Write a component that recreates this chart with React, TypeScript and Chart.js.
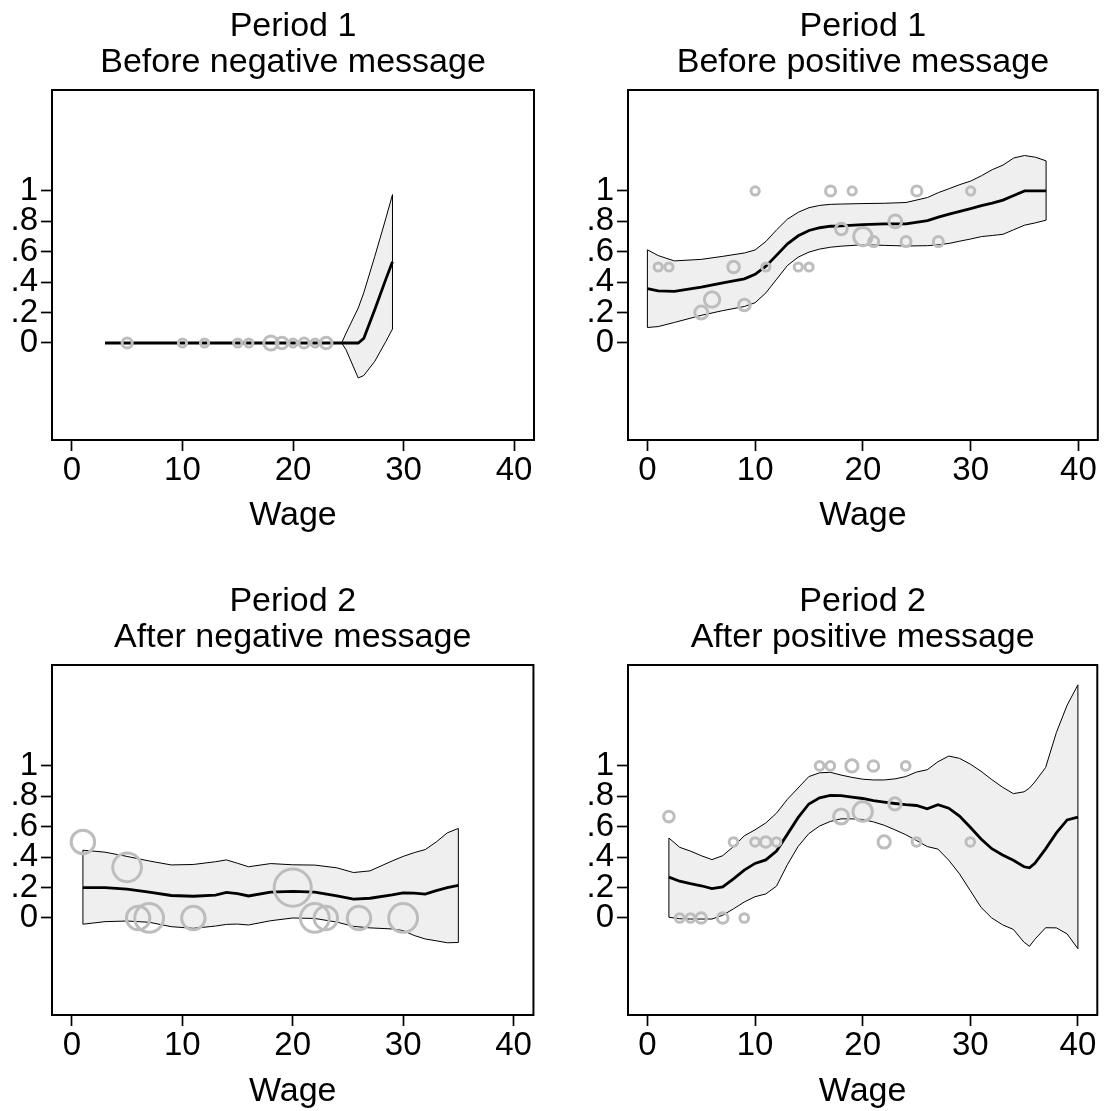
import React, { useEffect, useRef } from 'react';
import { Chart, registerables } from 'chart.js';
Chart.register(...registerables);

const FONT = "'Liberation Sans', Arial, Helvetica, sans-serif";
const MARKER = '#bdbdbd';
const BAND = '#efefef';

const xTicks = [0, 10, 20, 30, 40];
const yTicks = [0, 0.2, 0.4, 0.6, 0.8, 1];
const yTickLabels = ['0', '.2', '.4', '.6', '.8', '1'];
const xTitle = 'Wage';

// ---- Period 1, before negative message ----
const tlTitle = ['Period 1', 'Before negative message'];
const tlX = [3, 5, 10, 15, 20, 24.4, 24.8, 25.9, 26.4, 27.4, 28.4, 29];
const tlFit = [0, 0, 0, 0, 0, 0, 0, 0, 0.03, 0.22, 0.42, 0.535];
const tlLo = [0, 0, 0, 0, 0, 0, -0.045, -0.23, -0.214, -0.12, 0.01, 0.092];
const tlHi = [0, 0, 0, 0, 0, 0, 0.065, 0.23, 0.33, 0.57, 0.82, 0.976];
const tlPtX = [5, 10, 12, 15, 16, 18, 19, 20, 21, 22, 23];
const tlPtY = [0, 0, 0, 0, 0, 0, 0, 0, 0, 0, 0];
const tlPtN = [3, 2, 2, 2, 2, 6, 4, 2, 3, 2, 4];

// ---- Period 1, before positive message ----
const trTitle = ['Period 1', 'Before positive message'];
const trX = [0, 1, 2.5, 5, 7, 9, 10, 11, 12, 13, 14, 15, 16, 17, 18, 20, 22, 24, 26, 27, 28, 29, 30, 31, 32, 33, 34, 35, 36, 37];
const trFit = [0.357, 0.343, 0.34, 0.368, 0.396, 0.422, 0.452, 0.505, 0.578, 0.652, 0.705, 0.74, 0.758, 0.768, 0.77, 0.778, 0.783, 0.783, 0.805, 0.828, 0.848, 0.866, 0.884, 0.903, 0.92, 0.94, 0.97, 1.0, 1.0, 1.0];
const trHi = [0.613, 0.575, 0.54, 0.55, 0.57, 0.592, 0.612, 0.668, 0.745, 0.815, 0.86, 0.89, 0.905, 0.912, 0.914, 0.917, 0.919, 0.924, 0.957, 0.989, 1.015, 1.042, 1.065, 1.1, 1.14, 1.17, 1.217, 1.233, 1.222, 1.198];
const trLo = [0.102, 0.108, 0.135, 0.182, 0.213, 0.24, 0.265, 0.33, 0.42, 0.51, 0.565, 0.598, 0.618, 0.63, 0.637, 0.646, 0.642, 0.638, 0.64, 0.646, 0.655, 0.67, 0.684, 0.7, 0.707, 0.715, 0.745, 0.775, 0.79, 0.808];
const trPtX = [1, 2, 5, 6, 8, 9, 10, 11, 14, 15, 17, 18, 19, 20, 21, 23, 24, 25, 27, 30];
const trPtY = [0.5, 0.5, 0.2, 0.286, 0.5, 0.25, 1, 0.5, 0.5, 0.5, 1, 0.75, 1, 0.7, 0.667, 0.8, 0.667, 1, 0.667, 1];
const trPtN = [2, 2, 5, 7, 4, 4, 2, 2, 2, 2, 3, 4, 2, 10, 3, 5, 3, 3, 3, 2];

// ---- Period 2, after negative message ----
const blTitle = ['Period 2', 'After negative message'];
const blX = [1, 3, 5, 7, 9, 11, 13, 14, 15, 16, 18, 20, 22, 24, 25.5, 27, 29, 30, 31, 32, 33, 34, 35];
const blFit = [0.2, 0.2, 0.19, 0.17, 0.148, 0.143, 0.15, 0.168, 0.16, 0.145, 0.17, 0.175, 0.17, 0.145, 0.124, 0.13, 0.152, 0.165, 0.163, 0.157, 0.18, 0.2, 0.214];
const blHi = [0.446, 0.433, 0.405, 0.375, 0.349, 0.352, 0.37, 0.382, 0.36, 0.337, 0.358, 0.35, 0.348, 0.33, 0.299, 0.31, 0.375, 0.405, 0.43, 0.45, 0.5, 0.56, 0.589];
const blLo = [-0.041, -0.024, -0.02, -0.028, -0.057, -0.068, -0.053, -0.042, -0.04, -0.046, -0.018, 0.0, -0.003, -0.027, -0.055, -0.065, -0.072, -0.083, -0.115, -0.138, -0.15, -0.163, -0.161];
const blPtX = [1, 5, 6, 7, 11, 20, 22, 23, 26, 30];
const blPtY = [0.5, 0.333, 0, 0, 0, 0.2, 0, 0, 0, 0];
const blPtN = [2, 3, 2, 3, 2, 5, 3, 2, 2, 3];

// ---- Period 2, after positive message ----
const brTitle = ['Period 2', 'After positive message'];
const brX = [2, 3, 4, 5, 6, 7, 8, 9, 10, 11, 12, 13, 14, 15, 16, 17, 18, 19, 20, 21, 22, 23, 24, 25, 26, 27, 28, 29, 30, 31, 32, 33, 34, 35, 35.5, 36, 37, 38, 39, 40];
const brFit = [0.269, 0.242, 0.226, 0.212, 0.193, 0.205, 0.258, 0.315, 0.359, 0.382, 0.44, 0.55, 0.66, 0.75, 0.79, 0.806, 0.805, 0.795, 0.786, 0.772, 0.762, 0.753, 0.745, 0.74, 0.718, 0.745, 0.722, 0.67, 0.597, 0.52, 0.456, 0.415, 0.38, 0.337, 0.33, 0.36, 0.455, 0.56, 0.645, 0.664];
const brHi = [0.526, 0.465, 0.44, 0.41, 0.384, 0.41, 0.47, 0.54, 0.58, 0.625, 0.69, 0.78, 0.855, 0.93, 0.955, 0.958, 0.94, 0.925, 0.913, 0.908, 0.908, 0.915, 0.93, 0.96, 0.975, 1.028, 1.065, 1.05, 1.012, 0.965, 0.91, 0.86, 0.818, 0.83, 0.855, 0.895, 0.99, 1.22, 1.4, 1.533];
const brLo = [0.005, -0.005, -0.007, -0.007, -0.007, 0.018, 0.06, 0.105, 0.14, 0.158, 0.21, 0.35, 0.47, 0.555, 0.605, 0.635, 0.652, 0.652, 0.648, 0.632, 0.61, 0.58, 0.548, 0.51, 0.47, 0.453, 0.38, 0.29, 0.18, 0.07, 0.0, -0.045, -0.075, -0.16, -0.186, -0.14, -0.064, -0.065, -0.105, -0.202];
const brPtX = [2, 3, 4, 5, 7, 9, 8, 10, 11, 12, 16, 17, 19, 21, 24, 18, 20, 23, 22, 25, 30];
const brPtY = [0.667, 0, 0, 0, 0, 0, 0.5, 0.5, 0.5, 0.5, 1, 1, 1, 1, 1, 0.667, 0.7, 0.75, 0.5, 0.5, 0.5];
const brPtN = [3, 2, 2, 3, 3, 2, 2, 2, 3, 2, 2, 2, 4, 3, 2, 6, 10, 4, 4, 2, 2];

type PanelCfg = {
  title: string[];
  lx: number[]; fit: number[]; lo: number[]; hi: number[];
  px: number[]; py: number[]; pn: number[];
  left: number; top: number; w: number; h: number;
  areaL: number; areaR: number; areaB: number;
  titlePadTop: number; xTitlePadBottom: number; markerBase: number;
};

const boxPlugin = {
  id: 'plotBox',
  afterDatasetsDraw(chart: any) {
    const { ctx, chartArea: a } = chart;
    ctx.save();
    ctx.strokeStyle = '#000';
    ctx.lineWidth = 2;
    ctx.strokeRect(a.left, a.top, a.right - a.left, a.bottom - a.top);
    ctx.restore();
  },
};

function Panel({ cfg }: { cfg: PanelCfg }) {
  const ref = useRef<HTMLCanvasElement>(null);
  useEffect(() => {
    const canvas = ref.current!;
    const n = cfg.lx.length;
    const line = (ys: number[]) => cfg.lx.map((x, i) => ({ x, y: ys[i] }));
    const pts = cfg.px.map((x, i) => ({ x, y: cfg.py[i] }));
    const thin = { showLine: true, borderColor: '#000', borderWidth: 1, pointRadius: 0, fill: false };
    const gridOpts = {
      display: true, drawOnChartArea: false, drawTicks: true,
      tickLength: 11, tickColor: '#000', tickWidth: 1.7,
    };
    const chart = new Chart(canvas, {
      type: 'scatter',
      data: {
        datasets: [
          {
            data: pts,
            showLine: false,
            pointStyle: 'circle',
            pointRadius: cfg.pn.map((c) => cfg.markerBase * Math.sqrt(c)),
            pointBorderColor: MARKER,
            pointBackgroundColor: 'rgba(0,0,0,0)',
            pointBorderWidth: 3,
          },
          { data: line(cfg.fit), showLine: true, borderColor: '#000', borderWidth: 2.8, pointRadius: 0, fill: false },
          { ...thin, data: line(cfg.hi), fill: '+1', backgroundColor: BAND },
          { ...thin, data: line(cfg.lo) },
          { ...thin, data: [{ x: cfg.lx[0], y: cfg.lo[0] }, { x: cfg.lx[0], y: cfg.hi[0] }] },
          { ...thin, data: [{ x: cfg.lx[n - 1], y: cfg.lo[n - 1] }, { x: cfg.lx[n - 1], y: cfg.hi[n - 1] }] },
        ] as any,
      },
      options: {
        responsive: false,
        animation: false,
        events: [],
        layout: { padding: { left: 0, right: cfg.w - cfg.areaR, top: 0, bottom: 0 } },
        plugins: {
          legend: { display: false },
          tooltip: { enabled: false },
          filler: { drawTime: 'beforeDatasetsDraw' },
          title: {
            display: true,
            fullSize: false,
            text: cfg.title,
            color: '#000',
            font: { family: FONT, size: 34, weight: 'normal', lineHeight: '36px' },
            padding: { top: cfg.titlePadTop, bottom: 9.8 },
          },
        },
        scales: {
          x: {
            type: 'linear',
            min: -1.8,
            max: 41.8,
            afterBuildTicks: (s: any) => { s.ticks = xTicks.map((v) => ({ value: v })); },
            afterFit: (s: any) => { s.height = cfg.h - cfg.areaB; },
            ticks: {
              color: '#000', padding: 0, maxRotation: 0, autoSkip: false,
              font: { family: FONT, size: 33 },
              callback: (v: any) => String(v),
            },
            title: {
              display: true, text: xTitle, color: '#000',
              font: { family: FONT, size: 34, lineHeight: '36px' },
              padding: { top: 0, bottom: cfg.xTitlePadBottom },
            },
            grid: gridOpts,
            border: { display: false },
          },
          y: {
            type: 'linear',
            min: -0.638,
            max: 1.664,
            afterBuildTicks: (s: any) => { s.ticks = yTicks.map((v) => ({ value: v })); },
            afterFit: (s: any) => { s.width = cfg.areaL; },
            ticks: {
              color: '#000', padding: 3, autoSkip: false,
              font: { family: FONT, size: 33 },
              callback: (_v: any, i: number) => yTickLabels[i],
            },
            grid: gridOpts,
            border: { display: false },
          },
        },
      } as any,
      plugins: [boxPlugin],
    });
    return () => chart.destroy();
  }, []);
  return (
    <canvas
      ref={ref}
      width={cfg.w}
      height={cfg.h}
      style={{ position: 'absolute', left: cfg.left, top: cfg.top, width: cfg.w, height: cfg.h }}
    />
  );
}

const panels: PanelCfg[] = [
  { title: tlTitle, lx: tlX, fit: tlFit, lo: tlLo, hi: tlHi, px: tlPtX, py: tlPtY, pn: tlPtN,
    left: 0, top: 0, w: 555, h: 555, areaL: 52, areaR: 534, areaB: 440, titlePadTop: 8.2, xTitlePadBottom: 21.8, markerBase: 2.9 },
  { title: trTitle, lx: trX, fit: trFit, lo: trLo, hi: trHi, px: trPtX, py: trPtY, pn: trPtN,
    left: 555, top: 0, w: 555, h: 555, areaL: 73, areaR: 554, areaB: 440, titlePadTop: 8.2, xTitlePadBottom: 21.8, markerBase: 2.9 },
  { title: blTitle, lx: blX, fit: blFit, lo: blLo, hi: blHi, px: blPtX, py: blPtY, pn: blPtN,
    left: 0, top: 555, w: 555, h: 556, areaL: 52, areaR: 534, areaB: 460, titlePadTop: 28.2, xTitlePadBottom: 1.8, markerBase: 8.3 },
  { title: brTitle, lx: brX, fit: brFit, lo: brLo, hi: brHi, px: brPtX, py: brPtY, pn: brPtN,
    left: 555, top: 555, w: 555, h: 556, areaL: 73, areaR: 554, areaB: 460, titlePadTop: 28.2, xTitlePadBottom: 1.8, markerBase: 3.07 },
];

export default function App() {
  return (
    <div style={{ position: 'absolute', left: 0, top: 0, width: 1110, height: 1111, background: '#fff', overflow: 'hidden' }}>
      {panels.map((p, i) => <Panel key={i} cfg={p} />)}
    </div>
  );
}
